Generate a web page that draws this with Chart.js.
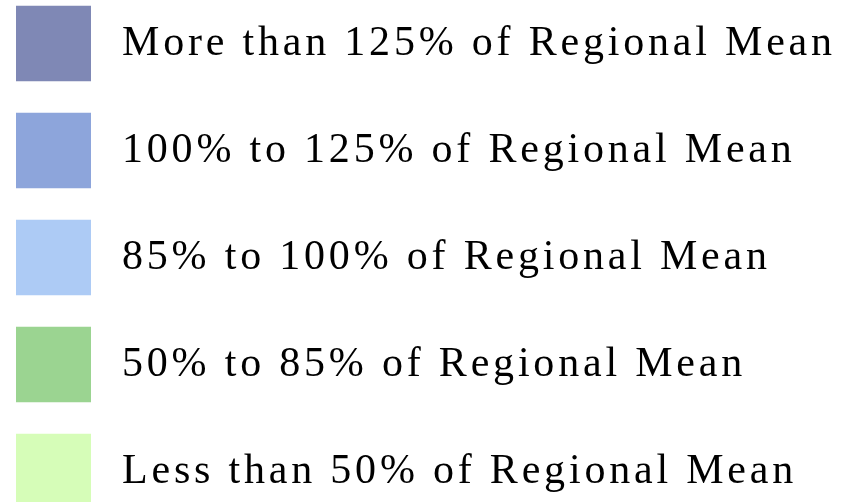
<!DOCTYPE html>
<html>
<head>
<meta charset="utf-8">
<script src="https://cdn.jsdelivr.net/npm/chart.js@4/dist/chart.umd.min.js"></script>
<style>
html, body { margin: 0; padding: 0; background: #ffffff; overflow: hidden; width: 853px; height: 502px; }
#wrap { position: absolute; left: 0; top: -10px; width: 853px; height: 535px; }
</style>
</head>
<body>
<div id="wrap"><canvas id="c" width="853" height="535"></canvas></div>
<script>
const categories = [
  'More than 125% of Regional Mean',
  '100% to 125% of Regional Mean',
  '85% to 100% of Regional Mean',
  '50% to 85% of Regional Mean',
  'Less than 50% of Regional Mean'
];
const swatchValues = [1, 1, 1, 1, 1];
const swatchColors = ['#7f88b5', '#8da5db', '#adcbf5', '#9bd491', '#d6fdb8'];

const letterSpacingPlugin = {
  id: 'letterSpacing',
  beforeDraw(chart) { chart.ctx.letterSpacing = '3.8px'; }
};

new Chart(document.getElementById('c'), {
  type: 'bar',
  data: {
    labels: categories,
    datasets: [{
      data: swatchValues,
      backgroundColor: swatchColors,
      borderWidth: 0,
      barThickness: 75
    }]
  },
  options: {
    indexAxis: 'y',
    responsive: false,
    animation: false,
    devicePixelRatio: 1,
    layout: { autoPadding: false, padding: { left: 16, right: 0, top: 0, bottom: 0 } },
    plugins: { legend: { display: false }, tooltip: { enabled: false } },
    scales: {
      x: { display: false, min: 0, max: 1 },
      y: {
        position: 'right',
        grid: { display: false, drawTicks: false },
        border: { display: false },
        ticks: {
          padding: 31,
          color: '#000000',
          autoSkip: false,
          crossAlign: 'near',
          font: { family: "'Liberation Serif', serif", size: 42 }
        },
        afterFit(scale) {
          scale.width = 762;
          scale.paddingTop = 0;
          scale.paddingBottom = 0;
        }
      }
    }
  },
  plugins: [letterSpacingPlugin]
});
</script>
</body>
</html>
